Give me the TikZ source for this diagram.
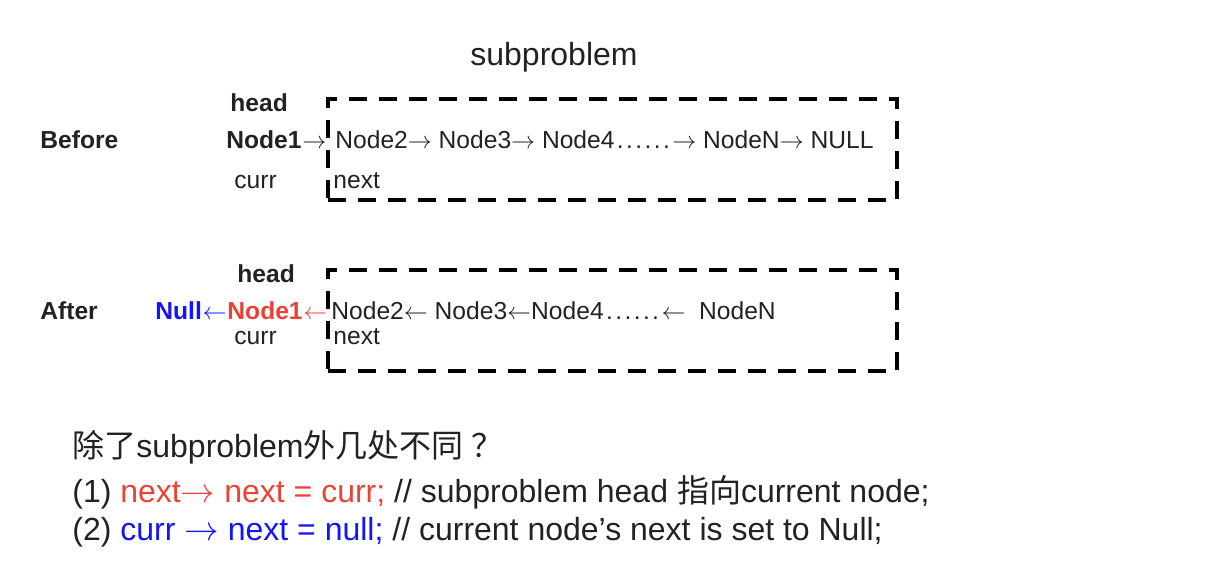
\documentclass[tikz,border=0pt]{standalone}
\usepackage{fontspec}
\setmainfont{Liberation Sans}
\newfontfamily\cjk{Noto Sans CJK SC}
\definecolor{myred}{RGB}{234,67,53}
\definecolor{myblue}{RGB}{20,20,250}
\definecolor{ink}{RGB}{34,34,34}
\newcommand{\ra}{$\rightarrow$}
\newcommand{\la}{$\leftarrow$}
\newcommand{\sixdots}{\makebox[2.35em][s]{\hspace{0.1em}.\hfil.\hfil.\hfil.\hfil.\hfil.\hspace{0.1em}}}
\begin{document}
\begin{tikzpicture}[x=0.5pt,y=-0.5pt,
  txt/.style={anchor=base west,inner sep=0pt,text=ink,font=\fontsize{12.3}{14}\selectfont},
  btxt/.style={txt,font=\fontsize{12.3}{14}\selectfont\bfseries},
  big/.style={anchor=base west,inner sep=0pt,text=ink,font=\fontsize{16}{19}\selectfont},
  subbox/.style={draw=black,line width=2pt,dash pattern=on 9pt off 6pt,minimum width=284.5pt,minimum height=50.5pt,inner sep=0pt}]
\useasboundingbox (0,0) rectangle (1224,576);
% title
\node[big,anchor=base] (title) at (554,66) {subproblem};
% Before
\node[subbox] (box1) at (612.5,149.5) {};
\node[btxt] (before) at (40,149) {Before};
\node[btxt] (head1) at (230,112) {head};
\node[btxt] (n1a) at (226,149) {Node1};
\node[txt,anchor=base west] (arr1) at (n1a.base east) {\ra};
\node[txt] (rest1) at (335,149) {Node2\ra\ Node3\ra\ Node4\sixdots\ra\ NodeN\ra\ NULL};
\node[txt] (curr1) at (234,189) {curr};
\node[txt] (next1) at (333,189) {next};
% After
\node[subbox] (box2) at (612.5,321) {};
\node[btxt] (after) at (40,320) {After};
\node[btxt] (head2) at (237,283) {head};
\node[btxt,text=myblue] (null2) at (155,320) {Null};
\node[txt,text=myblue] (arr2) at (null2.base east) {\la};
\node[btxt,text=myred] (n1b) at (arr2.base east) {Node1};
\node[txt,text=myred] (arr3) at (n1b.base east) {\la};
\node[txt] (rest2) at (331,320) {Node2\la\ Node3\la Node4\sixdots\la\ \ NodeN};
\node[txt] (curr2) at (234,345) {curr};
\node[txt] (next2) at (333,345) {next};
% bottom text
\node[big] (q) at (72,457) {{\cjk 除了}subproblem{\cjk 外几处不同}\hspace{0.25em}{\cjk ？}};
\node[big] (l1) at (72,502) {(1) \textcolor{myred}{next\ra\ next = curr;} // subproblem head {\cjk 指向}current node;};
\node[big] (l2) at (72,540) {(2) \textcolor{myblue}{curr \ra\ next = null;} // current node’s next is set to Null;};
\end{tikzpicture}
\end{document}
